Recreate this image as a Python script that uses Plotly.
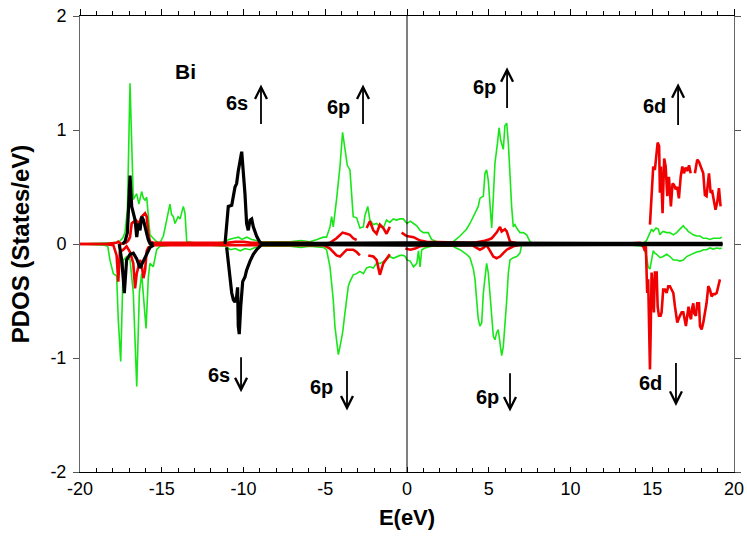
import plotly.graph_objects as go

# ---------------- data ----------------
green_up_x = [-20, -19, -18.5, -18.0, -17.6, -17.4, -17.25, -17.1, -16.94, -16.84, -16.74, -16.63, -16.53, -16.4,
              -16.23, -16.12, -16.02, -15.92, -15.82, -15.72, -15.52, -15.31, -15.11, -14.9, -14.7, -14.5, -14.4,
              -14.29, -14.19, -14.0, -13.88, -13.68, -13.58, -13.47, -13.0, -12.0, -11.5, -11.1, -10.9, -10.6,
              -10.3, -10.1, -9.8, -9.5, -9.2, -8.9, -8.5, -8.0, -7.5, -7.16, -6.5, -5.94, -5.5, -5.12, -4.92,
              -4.71, -4.61, -4.51, -4.31, -4.10, -3.94, -3.80, -3.65, -3.49, -3.39, -3.29, -3.08, -2.88, -2.67,
              -2.57, -2.4, -2.27, -2.06, -1.86, -1.66, -1.45, -1.25, -1.05, -0.84, -0.64, -0.43, -0.23, 0.0, 0.2,
              0.4, 0.6, 0.8, 1.0, 1.3, 1.5, 1.82, 2.2, 2.83, 3.24, 3.64, 3.85, 4.06, 4.36, 4.46, 4.67, 4.77, 4.87,
              4.97, 5.08, 5.18, 5.28, 5.38, 5.53, 5.63, 5.73, 5.89, 5.99, 6.10, 6.20, 6.30, 6.40, 6.50, 6.60, 6.71,
              6.91, 7.11, 7.32, 7.52, 7.73, 9, 11, 13, 14.45, 14.65, 14.86, 14.96, 15.06, 15.23, 15.37, 15.47,
              15.57, 15.67, 15.88, 16.08, 16.29, 16.49, 16.69, 16.90, 17.0, 17.1, 17.2, 17.3, 17.51, 17.71, 17.92,
              18.12, 18.32, 18.53, 18.73, 18.94, 19.14, 19.25]
green_up_y = [0.0, 0.005, 0.01, 0.01, 0.02, 0.05, 0.1, 0.3, 1.41, 0.8, 0.39, 0.42, 0.44, 0.35,
              0.46, 0.4, 0.385, 0.41, 0.24, 0.08, 0.05, 0.02, 0.01, 0.07, 0.21, 0.35, 0.26,
              0.24, 0.18, 0.24, 0.22, 0.33, 0.27, 0.02, 0.01, 0.01, 0.01, 0.02, 0.04, 0.05,
              0.06, 0.04, 0.06, 0.04, 0.03, 0.02, 0.02, 0.02, 0.02, 0.02, 0.03, 0.02, 0.04, 0.06, 0.06,
              0.15, 0.24, 0.15, 0.39, 0.68, 0.98, 0.82, 0.69, 0.65, 0.39, 0.24, 0.23, 0.14, 0.15,
              0.25, 0.33, 0.21, 0.17, 0.18, 0.15, 0.14, 0.21, 0.19, 0.22, 0.21, 0.22, 0.22, 0.18, 0.2,
              0.18, 0.16, 0.12, 0.10, 0.10, 0.04, 0.02, 0.02, 0.02, 0.07, 0.13, 0.18, 0.24, 0.33, 0.40, 0.42, 0.62, 0.65,
              0.56, 0.36, 0.14, 0.41, 0.71, 0.88, 1.02, 0.91, 0.83, 1.04, 1.06, 0.88, 0.59, 0.33, 0.15, 0.17, 0.14,
              0.10, 0.10, 0.08, 0.02, 0.0, 0.0, 0.0, 0.0, 0.005, 0.03, 0.10, 0.13, 0.11, 0.14, 0.13, 0.08,
              0.10, 0.11, 0.10, 0.10, 0.08, 0.10, 0.13, 0.16, 0.14, 0.13, 0.11, 0.10, 0.08, 0.07, 0.07,
              0.05, 0.05, 0.04, 0.05, 0.05, 0.05, 0.06]

green_dn_x = [-20, -19, -18.5, -18.3, -18.17, -17.96, -17.76, -17.66, -17.51, -17.35, -17.15, -16.94, -16.74,
              -16.53, -16.37, -16.23, -16.12, -15.96, -15.82, -15.72, -15.52, -15.31, -15.11, -14.5, -13, -12,
              -11.1, -10.8, -10.5, -10.2, -9.9, -9.6, -9.3, -8.9, -8, -7.16, -6.5, -5.94, -5.12, -4.92, -4.71,
              -4.61, -4.51, -4.41, -4.31, -4.20, -4.10, -4.0, -3.94, -3.80, -3.69, -3.59, -3.49, -3.29, -3.08,
              -2.88, -2.67, -2.47, -2.27, -2.06, -1.86, -1.66, -1.45, -1.25, -1.05, -0.84, -0.64, -0.43, -0.23,
              -0.1, 0.0, 0.2, 0.4, 0.6, 0.7, 0.8, 0.9, 1.1, 1.5, 2.0, 2.5, 2.83, 3.0, 3.24, 3.64, 3.85, 4.06, 4.16,
              4.26, 4.36, 4.46, 4.57, 4.67, 4.77, 4.87, 4.97, 5.08, 5.18, 5.28, 5.38, 5.48, 5.58, 5.69, 5.79, 5.89,
              5.99, 6.10, 6.20, 6.30, 6.50, 6.71, 6.91, 7.01, 7.32, 9, 13, 14.45, 14.55, 14.65, 14.75, 14.86,
              14.96, 15.06, 15.16, 15.27, 15.47, 15.67, 15.88, 16.08, 16.29, 16.49, 16.69, 16.9, 17.1, 17.3,
              17.51, 17.71, 17.92, 18.12, 18.32, 18.53, 18.73, 18.94, 19.14, 19.25]
green_dn_y = [0.0, -0.005, -0.01, -0.02, -0.14, -0.26, -0.28, -0.66, -1.03, -0.14, -0.11, -0.14, -0.43,
              -1.25, -0.43, -0.26, -0.43, -0.74, -0.29, -0.17, -0.2, -0.05, -0.02, -0.01, -0.01, -0.01,
              -0.02, -0.05, -0.04, -0.06, -0.04, -0.05, -0.03, -0.02, -0.02, -0.02, -0.03, -0.02, -0.03, -0.05, -0.2,
              -0.34, -0.49, -0.72, -0.84, -0.97, -0.9, -0.84, -0.78, -0.61, -0.49, -0.37, -0.33, -0.27, -0.26,
              -0.24, -0.26, -0.21, -0.2, -0.21, -0.17, -0.17, -0.155, -0.13, -0.11, -0.125, -0.11, -0.1, -0.1,
              -0.11, -0.14, -0.15, -0.2, -0.17, -0.06, -0.2, -0.05, -0.035, -0.02, -0.02, -0.02, -0.02, -0.035, -0.05, -0.09, -0.12, -0.22, -0.31,
              -0.49, -0.66, -0.72, -0.69, -0.43, -0.28, -0.17, -0.25, -0.43, -0.66, -0.81, -0.84, -0.78, -0.75, -0.87, -0.98, -0.90,
              -0.72, -0.49, -0.25, -0.14, -0.12, -0.11, -0.08, -0.01, 0.0, 0.0, 0.0, -0.02, -0.06, -0.11, -0.2, -0.22,
              -0.14, -0.06, -0.08, -0.09, -0.12, -0.11, -0.09, -0.11, -0.14, -0.14, -0.15, -0.14, -0.11, -0.095,
              -0.08, -0.07, -0.065, -0.05, -0.05, -0.035, -0.045, -0.035, -0.04, -0.035]

red_up_x = [-20, -18.5, -17.76, -17.66, -17.5, -17.2, -17.05, -16.94, -16.84, -16.6, -16.4, -16.23, -16.02,
            -15.92, -15.82, -15.72, -15.5, -14, -12, -11, -10.5, -10, -9.5, -8, -6, -5.12, -4.71, -4.31, -4.10,
            -3.94, -3.69, -3.49, -3.29, -3.08, None, -2.47, -2.27, -2.06, -1.86, -1.66, -1.45, -1.25, -1.05,
            None, -0.33, -0.02, 0.4, 0.8, 1.2, 2.83, 3.85, 4.26, 4.67, 5.0, 5.18, 5.48, 5.69, 5.79, 5.99, 6.10,
            6.3, 7, 13, 14.3, None, 14.86, 14.96, 15.06, 15.16, 15.27, 15.33, 15.42, 15.47, 15.53, 15.63, 15.73,
            15.82, 15.92, 16.02, 16.14, 16.24, 16.33, 16.43, 16.53, 16.63, 16.74, 16.84, 16.94, 17.04, 17.14,
            17.25, 17.35, None, 17.61, 17.75, 17.86, 17.96, 18.12, 18.22, 18.32, 18.47, 18.57, 18.67, 18.77,
            18.87, 18.98, 19.08, 19.18]
red_up_y = [0.0, 0.0, 0.01, 0.02, 0.0, 0.01, 0.03, 0.06, 0.18, 0.21, 0.18, 0.24, 0.27,
            0.24, 0.09, 0.02, 0.01, 0.01, 0.01, 0.01, 0.02, 0.02, 0.01, 0.01, 0.01, 0.0, 0.01, 0.05, 0.08,
            0.1, 0.09, 0.08, 0.05, 0.035, None, 0.14, 0.2, 0.12, 0.09, 0.17, 0.14, 0.09, 0.15,
            None, 0.10, 0.07, 0.06, 0.03, 0.02, 0.01, 0.01, 0.015, 0.025, 0.04, 0.05, 0.1, 0.15, 0.11, 0.13, 0.11,
            0.02, 0.0, 0.0, 0.01, None, 0.17, 0.39, 0.68, 0.65, 0.8, 0.89, 0.86, 0.45, 0.68, 0.27, 0.75,
            0.68, 0.42, 0.59, 0.33, 0.53, 0.52, 0.48, 0.5, 0.40, 0.59, 0.68, 0.62, 0.67, 0.64,
            0.69, 0.62, None, 0.62, 0.74, 0.72, 0.68, 0.62, 0.43, 0.42, 0.62, 0.45, 0.46, 0.39,
            0.30, 0.37, 0.49, 0.33]

red_dn_x = [-20, -18.5, -17.96, -17.76, -17.66, -17.56, -17.35, -17.15, -16.94, -16.74, -16.63, -16.53, -16.33,
            -16.23, -16.12, -16.02, -15.92, -15.82, -15.5, -11, -10, -8, -5.12, -4.71, -4.51, -4.31, -4.10,
            -3.90, -3.69, -3.49, -3.29, -3.08, -2.88, None, -2.37, -2.06, -1.86, -1.66, -1.45, -1.25, -1.05,
            None, -0.1, 0.2, 0.5, 0.8, 1.5, 4.0, 4.26, 4.46, 4.67, 4.87, 5.08, 5.28, 5.48, 5.69, 5.89, 6.10,
            6.30, 6.50, 7, 13, 14.3, 14.45, 14.55, 14.61, 14.69, 14.75, 14.82, 14.86, 14.90, 14.96, 15.02, 15.10,
            15.16, 15.27, 15.33, 15.41, 15.51, 15.57, 15.67, 15.78, 15.88, 15.98, 16.08, 16.18, 16.29, 16.39,
            16.53, 16.69, 16.80, 16.9, 17.06, 17.14, 17.22, 17.30, 17.37, 17.43, 17.51, 17.57, 17.67, 17.75,
            17.86, 17.92, 18.02, 18.12, 18.22, 18.32, 18.43, 18.53, 18.63, 18.73, 18.84, 18.94, 19.04, 19.14]
red_dn_y = [0.0, 0.0, -0.01, -0.1, -0.33, -0.07, -0.05, -0.02, -0.07, -0.17, -0.39, -0.26, -0.14,
            -0.18, -0.30, -0.23, -0.06, -0.03, -0.01, -0.01, -0.015, -0.01, -0.01, -0.04, -0.07, -0.1, -0.11,
            -0.08, -0.05, -0.05, -0.05, -0.07, -0.1, None, -0.1, -0.11, -0.14, -0.27, -0.17, -0.13, -0.09,
            None, -0.04, -0.05, -0.04, -0.02, -0.01, -0.01, -0.035, -0.05, -0.035, -0.01, -0.06, -0.11, -0.125, -0.11, -0.08, -0.05,
            -0.035, -0.02, -0.005, 0.0, -0.005, -0.02, -0.06, -0.02, -0.43, -0.31, -0.78, -1.1, -0.80, -0.25, -0.37, -0.6,
            -0.25, -0.25, -0.55, -0.63, -0.63, -0.60, -0.40, -0.40, -0.43, -0.37, -0.37, -0.40, -0.43, -0.55,
            -0.69, -0.63, -0.60, -0.60, -0.72, -0.63, -0.55, -0.63, -0.66, -0.57, -0.52, -0.61, -0.63, -0.52,
            -0.52, -0.72, -0.75, -0.69, -0.60, -0.52, -0.37, -0.40, -0.46, -0.44, -0.44, -0.43, -0.37, -0.31]

black_up_x = [-17.4, -17.25, -17.1, -17.04, -16.94, -16.84, -16.74, -16.63, -16.53, -16.43, -16.33, -16.23,
              -16.12, -16.02, -15.92, -15.82, -15.72, -15.5, None, -11.13, -10.93, -10.72, -10.62, -10.52,
              -10.42, -10.32, -10.11, -10.01, -9.91, -9.81, -9.71, -9.60, -9.50, -9.40, -9.20, -9.0, -8.89,
              -6, -3, 0, 3, 7, 12, 19.3]
black_up_y = [0.0, 0.02, 0.1, 0.33, 0.6, 0.33, 0.27, 0.21, 0.06, 0.18, 0.12, 0.24,
              0.21, 0.15, 0.09, 0.035, 0.005, 0.0, None, 0.0, 0.33, 0.34, 0.44, 0.50,
              0.53, 0.64, 0.81, 0.64, 0.44, 0.18, 0.12, 0.21, 0.22, 0.15, 0.07, 0.015, 0.005,
              0.005, 0.01, 0.01, 0.01, 0.005, 0.005, 0.005]

black_dn_x = [-17.6, -17.45, -17.35, -17.29, -17.15, -16.94, -16.74, -16.53, -16.33, -16.12, -15.92, -15.72,
              -15.5, None, -11.03, -10.93, -10.82, -10.72, -10.62, -10.52, -10.42, -10.36, -10.32, -10.26,
              -10.17, -10.05, -9.91, -9.81, -9.60, -9.40, -9.20, -9.0, -8.89, -6, -3, 0, 3, 7, 12, 19.3]
black_dn_y = [0.0, -0.14, -0.31, -0.43, -0.14, -0.09, -0.08, -0.13, -0.21, -0.15, -0.09, -0.03,
              -0.01, None, -0.03, -0.17, -0.34, -0.43, -0.49, -0.51, -0.46, -0.38, -0.72, -0.79,
              -0.55, -0.33, -0.29, -0.23, -0.15, -0.09, -0.05, -0.015, -0.005, -0.005, -0.01, -0.01, -0.01,
              -0.005, -0.005, -0.005]

x_tick_vals = [-20, -15, -10, -5, 0, 5, 10, 15, 20]
x_tick_text = ["-20", "-15", "-10", "-5", "0", "5", "10", "15", "20"]
y_tick_vals = [-2, -1, 0, 1, 2]
y_tick_text = ["-2", "-1", "0", "1", "2"]

# labels: text, x, y
orb_labels = ["6s", "6p", "6p", "6d", "6s", "6p", "6p", "6d"]
orb_label_x = [-10.40, -4.22, 4.77, 15.11, -11.50, -5.20, 4.95, 14.92]
orb_label_y = [1.24, 1.20, 1.38, 1.21, -1.15, -1.25, -1.34, -1.22]
# arrows: head (x, y), tail (x, y)
arrow_x = [-8.93, -2.69, 6.12, 16.58, -10.15, -3.67, 6.30, 16.45]
arrow_head_y = [1.40, 1.40, 1.55, 1.41, -1.30, -1.46, -1.47, -1.42]
arrow_tail_y = [1.04, 1.04, 1.18, 1.03, -0.98, -1.10, -1.12, -1.03]

GREEN = "#19e619"
RED = "#f00000"
BLACK = "#000000"

fig = go.Figure()
series = [
    (green_up_x, green_up_y, GREEN, 1.6),
    (green_dn_x, green_dn_y, GREEN, 1.6),
    (red_up_x, red_up_y, RED, 2.6),
    (red_dn_x, red_dn_y, RED, 2.6),
    (black_up_x, black_up_y, BLACK, 3.2),
    (black_dn_x, black_dn_y, BLACK, 3.2),
]
for xs, ys, col, w in series:
    fig.add_trace(go.Scatter(x=xs, y=ys, mode="lines", line=dict(color=col, width=w),
                             connectgaps=False, showlegend=False, hoverinfo="skip"))

# invisible trace to activate the top mirror axis
fig.add_trace(go.Scatter(x=green_up_x, y=green_up_y, xaxis="x2", mode="none",
                         showlegend=False, hoverinfo="skip"))

FONT = "Liberation Sans, Arial, Helvetica, sans-serif"

fig.update_layout(
    width=747, height=549,
    margin=dict(l=80, r=13, t=16, b=77, autoexpand=False),
    plot_bgcolor="white", paper_bgcolor="white",
    font=dict(family=FONT, color="black"),
    xaxis=dict(range=[-20, 20], tickvals=x_tick_vals, ticktext=x_tick_text,
               ticks="inside", ticklen=5, tickwidth=1, tickcolor="black",
               minor=dict(dtick=1, ticks="inside", ticklen=4, tickcolor="black"),
               showline=True, linecolor="black", linewidth=1, mirror=True,
               showgrid=False, zeroline=False, automargin=False, ticklabeloverflow="allow",
               tickfont=dict(size=18, family=FONT),
               title=dict(text="<b>E(eV)</b>", font=dict(size=22, family=FONT), standoff=12)),
    xaxis2=dict(range=[-20, 20], overlaying="x", side="top", tickvals=x_tick_vals,
                showticklabels=False, ticks="outside", ticklen=6, tickcolor="black",
                minor=dict(dtick=1, ticks="outside", ticklen=4, tickcolor="black"),
                showline=False, showgrid=False, zeroline=False, automargin=False),
    yaxis=dict(range=[-2, 2], tickvals=y_tick_vals, ticktext=y_tick_text,
               ticks="outside", ticklen=6, tickwidth=1, tickcolor="#555",
               showline=True, linecolor="#666", linewidth=1, mirror="ticks",
               showgrid=False, zeroline=False, ticklabelstandoff=3, automargin=False,
               ticklabeloverflow="allow",
               tickfont=dict(size=18, family=FONT),
               title=dict(text="<b>PDOS (States/eV)</b>", font=dict(size=24, family=FONT), standoff=13)),
)

# Fermi level line
fig.add_shape(type="line", xref="x", yref="y domain", x0=0, x1=0, y0=0, y1=1,
              line=dict(color="black", width=1))

fig.add_annotation(x=-13.52, y=1.51, text="<b>Bi</b>", showarrow=False,
                   font=dict(size=21, family=FONT, color="black"))

for t, lx, ly in zip(orb_labels, orb_label_x, orb_label_y):
    fig.add_annotation(x=lx, y=ly, text="<b>" + t + "</b>", showarrow=False,
                       font=dict(size=20, family=FONT, color="black"))

for ax_, hy, ty in zip(arrow_x, arrow_head_y, arrow_tail_y):
    fig.add_annotation(x=ax_, y=hy, ax=ax_, ay=ty, xref="x", yref="y", axref="x", ayref="y",
                       text="", showarrow=True, arrowhead=5, arrowsize=1.3, arrowwidth=1.8,
                       arrowcolor="black")

# remove the browser's default page margin so the figure sits at the window origin
fig.write_html("out.html", config={"displayModeBar": False},
               post_script="document.body.style.margin='0px';")
